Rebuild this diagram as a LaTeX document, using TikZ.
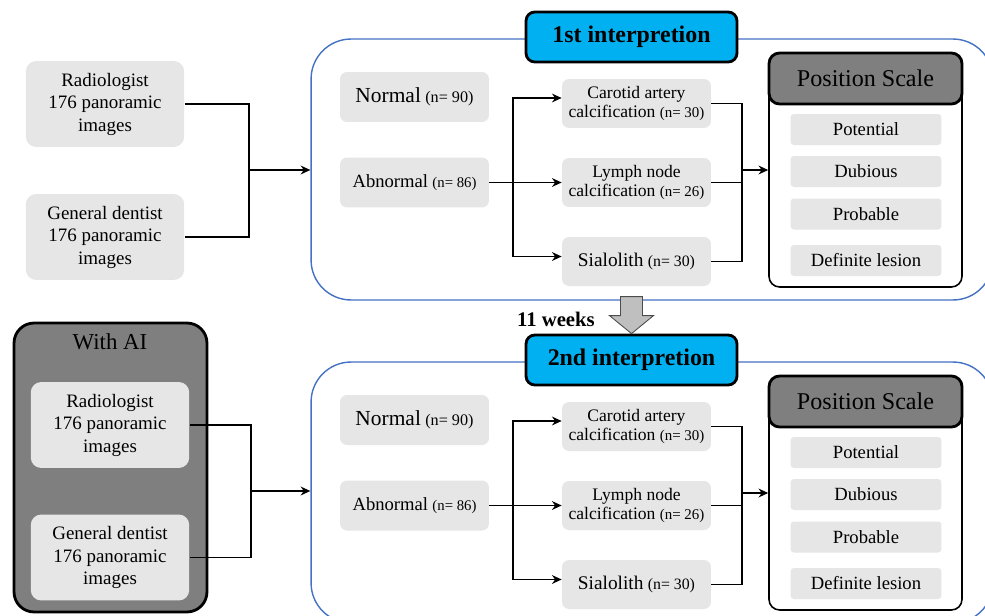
\documentclass[tikz,border=0pt]{standalone}
\usepackage{fontspec}
\setmainfont{LiberationSerif}[Extension=.ttf,UprightFont=*-Regular,
  BoldFont=*-Bold,ItalicFont=*-Italic,BoldItalicFont=*-BoldItalic]
\usepackage{tikz}
\usetikzlibrary{arrows.meta,positioning,calc}
\definecolor{boxgray}{HTML}{E7E6E6}
\definecolor{hdgray}{HTML}{7F7F7F}
\definecolor{panblue}{HTML}{4472C4}
\definecolor{titlecyan}{HTML}{00B0F0}
\definecolor{arrgray}{HTML}{BFBFBF}

\begin{document}
\begin{tikzpicture}[x=0.02cm,y=-0.02cm,>={Stealth[length=5.5pt,width=5pt]},
 conn/.style={line width=1.1pt},
 gbox/.style={fill=boxgray,rounded corners=5pt,align=center,inner sep=0pt},
 reader/.style={gbox,rounded corners=6pt,minimum width=3.17cm,minimum height=1.72cm,
  font=\fontsize{10.8}{12.8}\selectfont},
 cls/.style={gbox,rounded corners=4pt,minimum width=2.98cm,minimum height=1cm},
 lesion/.style={gbox,rounded corners=4pt,minimum width=2.98cm,minimum height=0.98cm,
  font=\fontsize{10}{10.8}\selectfont},
 grade/.style={gbox,rounded corners=2pt,minimum width=3.02cm,minimum height=0.62cm,
  font=\fontsize{10.6}{12}\selectfont},
 panel/.style={draw=panblue,line width=0.8pt,rounded corners=0.8cm,fill=white,
  minimum width=13.64cm,minimum height=5.22cm},
 title/.style={draw=black,fill=titlecyan,line width=1.6pt,rounded corners=5pt,
  minimum width=4.22cm,minimum height=1cm,font=\fontsize{13.6}{15}\selectfont\bfseries}]
\useasboundingbox (0,0) rectangle (985,616);
\clip (0,0) rectangle (985,616);

% Two reading sessions, the second one shifted down.
\foreach \oy/\ord/\s in {0/1st/a,323/2nd/b}{
  \begin{scope}[shift={(0,\oy)}]
    \node[panel] (pan\s) at (652,169.5) {};
    \node[title] (tit\s) at (631.5,37) {\ord\ interpretion};
    \node[cls] (nor\s) at (414.5,97)
      {{\fontsize{12.2}{14}\selectfont Normal} {\fontsize{9.2}{11}\selectfont(n= 90)}};
    \node[cls] (abn\s) at (414.5,182.5)
      {{\fontsize{10.6}{12}\selectfont Abnormal} {\fontsize{8.4}{10}\selectfont(n= 86)}};
    \node[lesion] (car\s) at (636.5,103.5)
      {Carotid artery\\calcification {\fontsize{8.5}{10}\selectfont(n= 30)}};
    \node[lesion] (lym\s) at (636.5,182.5)
      {Lymph node\\calcification {\fontsize{8.5}{10}\selectfont(n= 26)}};
    \node[lesion] (sia\s) at (636.5,261.5)
      {{\fontsize{11}{12}\selectfont Sialolith} {\fontsize{9}{10}\selectfont(n= 30)}};
    \coordinate (spl\s) at ($(abn\s.east)+(24,0)$);
    \draw[conn] (abn\s.east) -- (spl\s);
    \draw[conn,->] (spl\s) |- ([yshift=0.11cm]car\s.west);
    \draw[conn,->] (spl\s) -- (lym\s.west);
    \draw[conn,->] (spl\s) |- ([yshift=0.1cm]sia\s.west);
    % Position scale box with its four grades.
    \node[draw=black,line width=0.9pt,fill=white,rounded corners=6pt,
      minimum width=3.86cm,minimum height=4.68cm] (ps\s) at (865.5,170) {};
    \node[draw=black,fill=hdgray,line width=1.6pt,rounded corners=6pt,
      minimum width=3.86cm,minimum height=1.02cm,
      font=\fontsize{13.7}{15}\selectfont] (psh\s) at (865.5,78.5) {Position Scale};
    \foreach \g/\gy [count=\k] in {Potential/129.5,Dubious/171.5,Probable/214,
      Definite lesion/260.5}
      \node[grade] (gr\s\k) at (866,\gy) {\g};
    \coordinate (mrg\s) at (742,170);
    \draw[conn] (car\s.east) -| (mrg\s) |- (sia\s.east);
    \draw[conn] (lym\s.east) -- (lym\s.east -| mrg\s);
    \draw[conn,->] (mrg\s) -- (ps\s.west);
  \end{scope}
}

% Readers without AI.
\node[reader] (rada) at (105,104) {Radiologist\\176 panoramic\\images};
\node[reader] (gena) at (105,237) {General dentist\\176 panoramic\\images};
\coordinate (joina) at (249,170);
\draw[conn] (rada.east) -| (joina) |- (gena.east);
\draw[conn,->] (joina) -- (joina -| pana.west);

% Readers with AI.
\node[draw=black,fill=hdgray,line width=1.6pt,rounded corners=0.4cm,
  minimum width=3.86cm,minimum height=5.78cm] (aibox) at (110.5,467.5) {};
\node[font=\fontsize{13}{15}\selectfont] (ailab) at (110,342) {With AI};
\node[reader] (radb) at (110,425) {Radiologist\\176 panoramic\\images};
\node[reader] (genb) at (110,557.5) {General dentist\\176 panoramic\\images};
\coordinate (joinb) at (251,491);
\draw[conn] (radb.east) -| (joinb) |- (genb.east);
\draw[conn,->] (joinb) -- (joinb -| panb.west);

% Interval between the sessions.
\draw[draw=black!70,fill=arrgray,line width=0.5pt] (titb.north) -- ++(-22,-18)
  -- ++(11,0) -- ++(0,-19) -- ++(22,0) -- ++(0,19) -- ++(11,0) -- cycle;
\node[anchor=east,font=\fontsize{11.8}{13}\selectfont\bfseries] (wks)
  at (601,319) {11 weeks};
\end{tikzpicture}
\end{document}
